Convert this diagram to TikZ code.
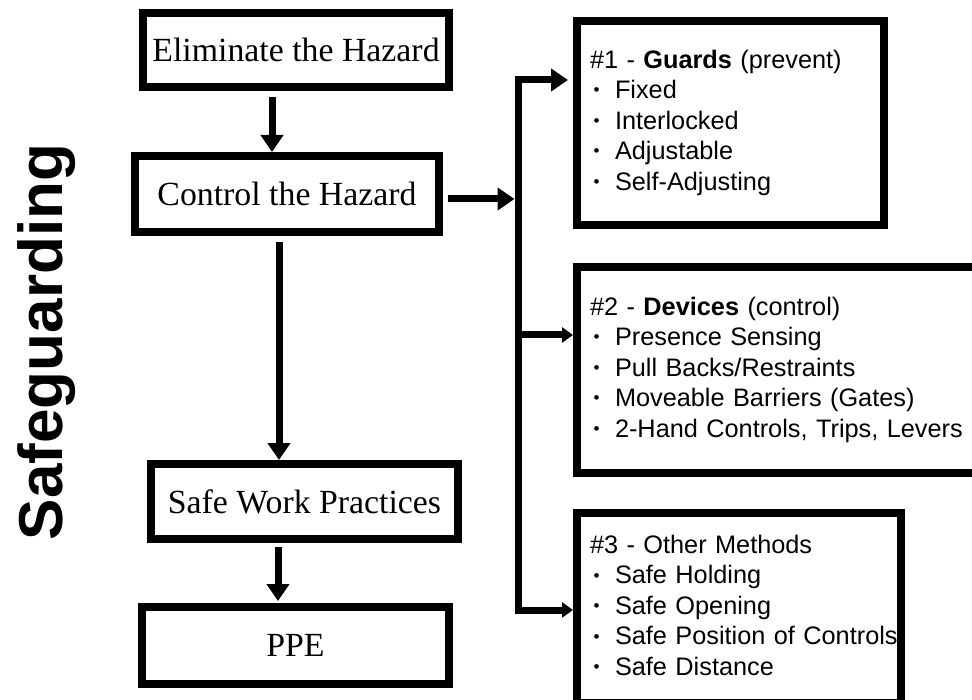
\documentclass[tikz,border=0pt]{standalone}
\usepackage{fontspec}
\setmainfont{Liberation Serif}
\newfontfamily\arialfont{Liberation Sans}
\usetikzlibrary{arrows.meta}
\newcommand\itembul{\makebox[25pt][l]{\hspace{3.5pt}\raisebox{2.6pt}{\fontsize{17}{17}\selectfont •}}}
\begin{document}
\begin{tikzpicture}[x=1pt,y=-1pt,
  lbox/.style={draw, line width=8pt, inner sep=0pt, font=\fontsize{33.8}{40}\selectfont},
  rbox/.style={draw, line width=8pt, inner sep=0pt, align=left, text width=#1, minimum width=#1,
    font=\arialfont\fontsize{25.3}{30.5}\selectfont},
  bigarrow/.style={line width=7pt, -{Triangle[width=22pt,length=17pt]}},
  smallarrow/.style={line width=7pt, line join=miter, -{Triangle[width=15pt,length=11pt]}},
  titletext/.style={rotate=90, inner sep=0pt, font=\arialfont\bfseries\fontsize{62}{70}\selectfont}
]
\useasboundingbox (0,0) rectangle (972,700);
\clip (0,0) rectangle (972,700);

\node[titletext] (title) at (47,342) {Safeguarding};

\node[lbox, minimum width=306pt, minimum height=74pt] (elim) at (296,50) {Eliminate the Hazard};
\node[lbox, minimum width=304pt, minimum height=76pt] (ctrl) at (287,194) {Control the Hazard};
\node[lbox, minimum width=307pt, minimum height=75pt] (swp) at (304.5,501.5) {Safe Work Practices};
\node[lbox, minimum width=307pt, minimum height=77pt] (ppe) at (295.5,645.5) {PPE};

\node[rbox=307pt, minimum height=204pt] (g1) at (730.5,123) {%
\begin{tabular}{@{\hspace{13pt}}l@{}}
\#1 - \textbf{Guards} (prevent)\\
\itembul Fixed\\
\itembul Interlocked\\
\itembul Adjustable\\
\itembul Self-Adjusting
\end{tabular}};

\node[rbox=399pt, minimum height=206pt] (g2) at (776.5,370) {%
\begin{tabular}{@{\hspace{13pt}}l@{}}
\#2 - \textbf{Devices} (control)\\
\itembul Presence Sensing\\
\itembul Pull Backs/Restraints\\
\itembul Moveable Barriers (Gates)\\
\itembul 2-Hand Controls, Trips, Levers
\end{tabular}};

\node[rbox=324pt, minimum height=190pt] (g3) at (739,608) {%
\begin{tabular}{@{\hspace{13pt}}l@{}}
\#3 - Other Methods\\
\itembul Safe Holding\\
\itembul Safe Opening\\
\itembul Safe Position of Controls\\
\itembul Safe Distance
\end{tabular}};

\coordinate (bt) at (518,80);
\coordinate (bm) at (518,199);
\coordinate (b2) at (518,335);
\coordinate (bb) at (518,610);
\coordinate (xa) at (272,0);
\coordinate (xb) at (279,0);
\coordinate (xc) at (278,0);

\draw[bigarrow, shorten <=6pt] (elim.south -| xa) -- (ctrl.north -| xa);
\draw[bigarrow, shorten <=6pt] (ctrl.south -| xb) -- (swp.north -| xb);
\draw[bigarrow, shorten <=4pt, shorten >=2pt] (swp.south -| xc) -- (ppe.north -| xc);
\draw[bigarrow, shorten <=5pt, shorten >=3.5pt] (ctrl.east |- bm) -- (bm);
\draw[bigarrow, line join=miter, shorten >=5pt] (bm) -- (bt) -- (g1.west |- bt);
\draw[smallarrow] (bm) -- (bb) -- (g3.west |- bb);
\draw[smallarrow] (b2) -- (g2.west |- b2);
\end{tikzpicture}
\end{document}
